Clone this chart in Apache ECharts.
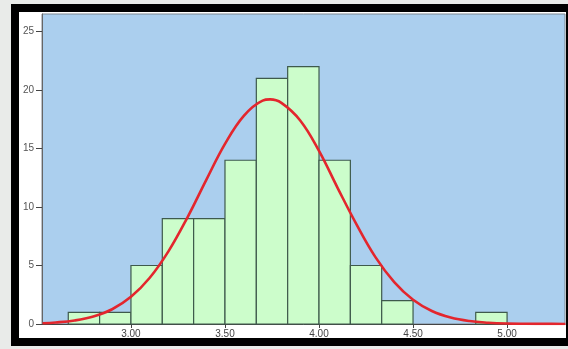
<!DOCTYPE html>
<html>
<head>
<meta charset="utf-8">
<script src="https://cdn.jsdelivr.net/npm/echarts@6/dist/echarts.min.js"></script>
<style>
html,body{margin:0;padding:0;width:568px;height:349px;overflow:hidden;background:#e9ebe9;}
#frame{position:absolute;left:11px;top:4px;width:557px;height:342px;background:#000;}
#inner{position:absolute;left:19px;top:12px;width:547px;height:326px;background:#fff;}
#chart{position:absolute;left:0;top:0;width:568px;height:349px;}
</style>
</head>
<body>
<div id="frame"></div>
<div id="inner"></div>
<div id="chart"></div>
<script>
// Histogram bins (lower and upper edges) and counts
const binStarts = [2.6667, 2.8333, 3.0, 3.1667, 3.3333, 3.5, 3.6667, 3.8333, 4.0, 4.1667, 4.3333, 4.8333];
const binEnds   = [2.8333, 3.0, 3.1667, 3.3333, 3.5, 3.6667, 3.8333, 4.0, 4.1667, 4.3333, 4.5, 5.0];
const counts    = [1, 1, 5, 9, 9, 14, 21, 22, 14, 5, 2, 1];

// Fitted normal curve
const curveX = [2.53, 2.6, 2.7, 2.8, 2.9, 3.0, 3.1, 3.2, 3.3, 3.4, 3.5, 3.6, 3.7, 3.74, 3.8, 3.9, 4.0, 4.1, 4.2, 4.3, 4.4, 4.5, 4.6, 4.7, 4.8, 4.9, 5.0, 5.1, 5.2, 5.31];
const curveY = [0.07, 0.13, 0.30, 0.64, 1.26, 2.32, 3.95, 6.23, 9.10, 12.3, 15.4, 17.8, 19.1, 19.2, 18.9, 17.4, 14.8, 11.6, 8.5, 5.72, 3.58, 2.07, 1.11, 0.55, 0.25, 0.11, 0.04, 0.02, 0.01, 0.0];

// Tick labels
const xTicks = [3.0, 3.5, 4.0, 4.5, 5.0];
const yTicks = [0, 5, 10, 15, 20, 25];

const chart = echarts.init(document.getElementById('chart'), null, {renderer: 'canvas'});
const barData = binStarts.map((s, i) => [s, binEnds[i], counts[i]]);
const lineData = curveX.map((x, i) => [x, curveY[i]]);

chart.setOption({
  animation: false,
  backgroundColor: 'transparent',
  grid: {left: 42, right: 3, top: 14, bottom: 25, show: true, backgroundColor: '#abcfee', borderColor: '#7d8790', borderWidth: 1},
  xAxis: {
    type: 'value', min: 2.527, max: 5.308,
    splitLine: {show: false},
    axisLine: {show: true, onZero: false, lineStyle: {color: '#444', width: 1}},
    axisTick: {show: true, length: 4, lineStyle: {color: '#444'}, customValues: xTicks},
    axisLabel: {customValues: xTicks, formatter: v => v.toFixed(2), color: '#444', fontSize: 10, fontFamily: 'Liberation Sans, Arial', margin: 5}
  },
  yAxis: {
    type: 'value', min: 0, max: 26.5,
    splitLine: {show: false},
    axisLine: {show: true, lineStyle: {color: '#666', width: 1}},
    axisTick: {show: true, length: 6, lineStyle: {color: '#444'}, customValues: yTicks},
    axisLabel: {customValues: yTicks, color: '#555', fontSize: 10, fontFamily: 'Liberation Sans, Arial', margin: 8}
  },
  series: [
    {
      type: 'custom',
      data: barData,
      encode: {x: [0, 1], y: 2},
      renderItem: function (params, api) {
        const p0 = api.coord([api.value(0), api.value(2)]);
        const p1 = api.coord([api.value(1), 0]);
        return {
          type: 'rect',
          shape: {x: p0[0], y: p0[1], width: p1[0] - p0[0], height: p1[1] - p0[1]},
          style: {fill: '#ccfdcb', stroke: '#3e5a4c', lineWidth: 1.2}
        };
      },
      z: 2
    },
    {
      type: 'line',
      data: lineData,
      smooth: 0.4,
      showSymbol: false,
      lineStyle: {color: '#e3262d', width: 2.6},
      z: 3
    }
  ]
});
</script>
</body>
</html>
